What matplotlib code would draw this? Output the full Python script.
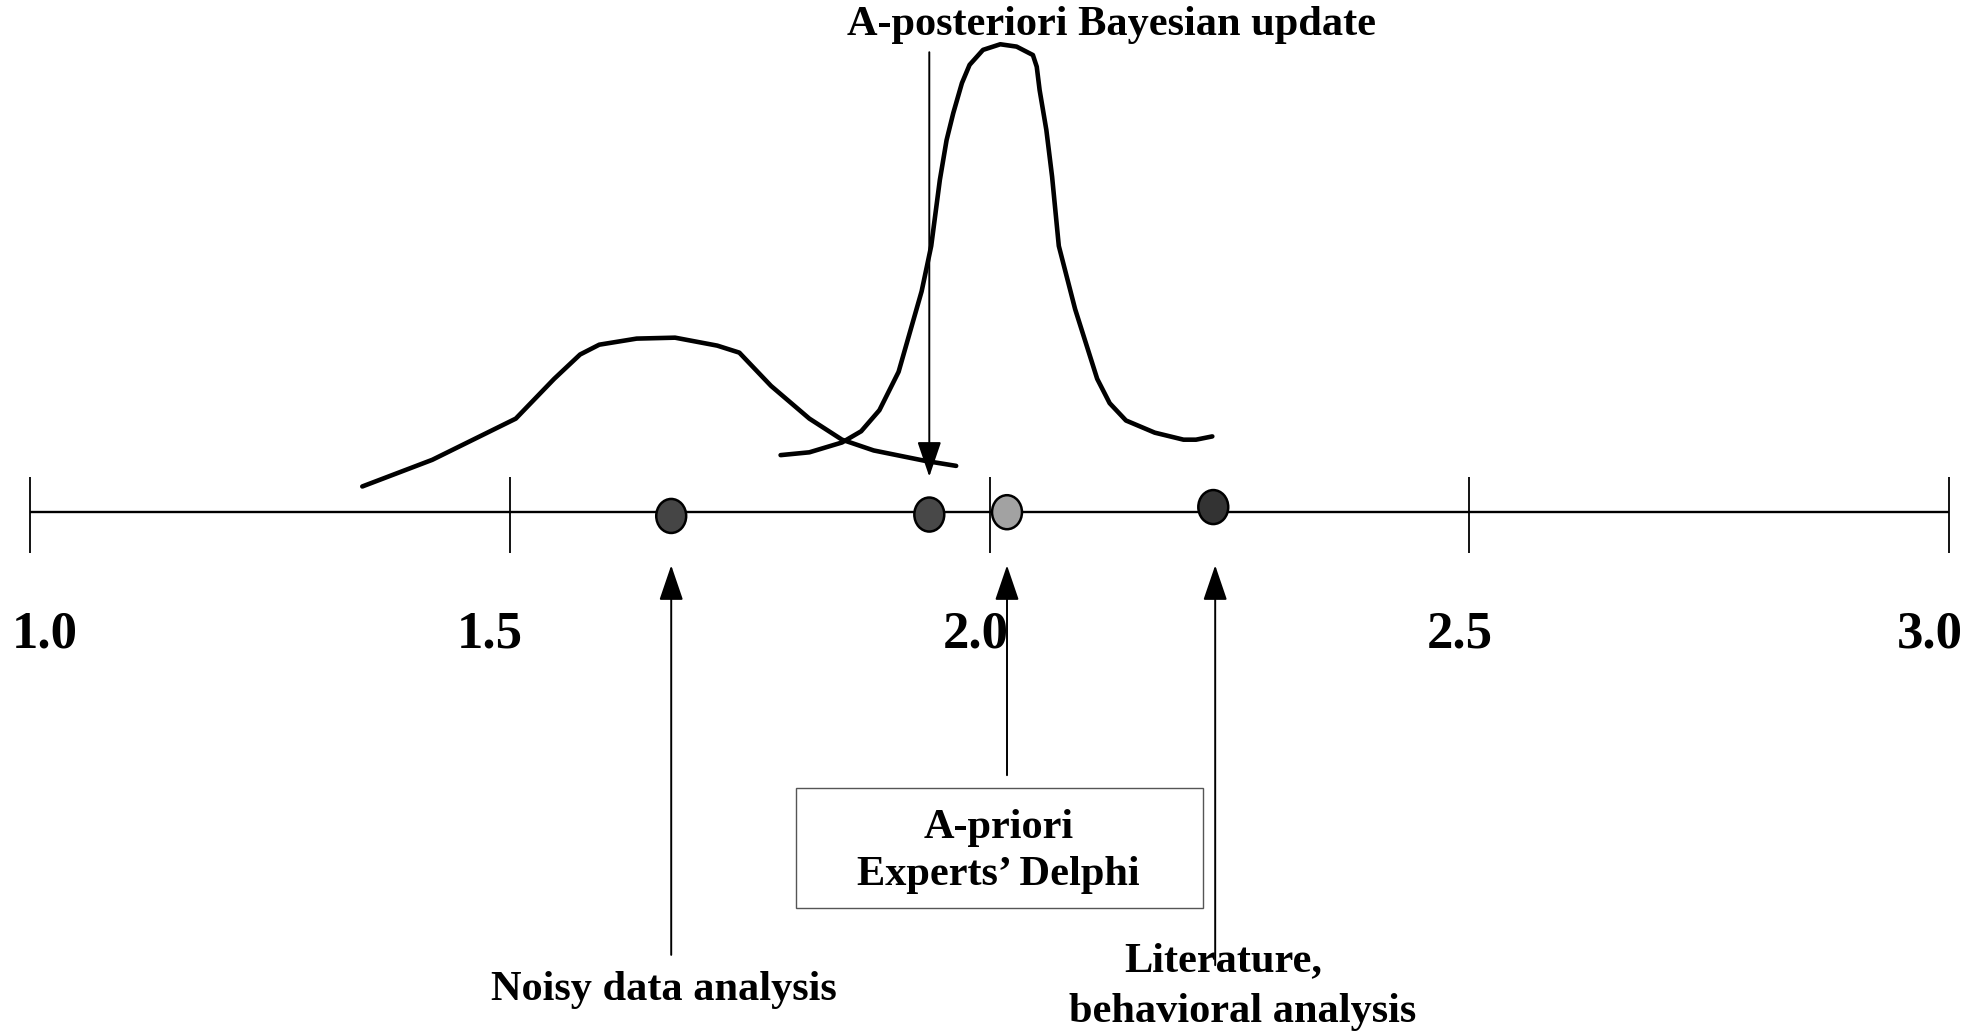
import matplotlib
matplotlib.use("Agg")
import matplotlib.pyplot as plt
from matplotlib.patches import Ellipse, FancyArrowPatch, Rectangle

# ---------------- data ----------------
tick_values = [1.0, 1.5, 2.0, 2.5, 3.0]
tick_labels = ["1.0", "1.5", "2.0", "2.5", "3.0"]

# wide distribution (noisy data)
wide_x = [1.346, 1.419, 1.506, 1.546, 1.573, 1.593, 1.632, 1.672, 1.716, 1.739,
          1.772, 1.812, 1.846, 1.879, 1.932, 1.965]
wide_y = [0.055, 0.112, 0.200, 0.285, 0.337, 0.358, 0.371, 0.373, 0.356, 0.341,
          0.270, 0.200, 0.155, 0.132, 0.110, 0.099]

# narrow distribution (a-posteriori)
narrow_x = [1.782, 1.812, 1.846, 1.866, 1.885, 1.905, 1.929, 1.939, 1.948, 1.955,
            1.962, 1.971, 1.979, 1.993, 2.011, 2.028, 2.045, 2.049, 2.052, 2.059,
            2.065, 2.072, 2.089, 2.112, 2.125, 2.142, 2.172, 2.202, 2.215, 2.232]
narrow_y = [0.122, 0.128, 0.149, 0.173, 0.218, 0.300, 0.472, 0.569, 0.710, 0.795,
            0.853, 0.917, 0.956, 0.988, 1.000, 0.995, 0.977, 0.952, 0.902, 0.817,
            0.717, 0.569, 0.434, 0.285, 0.233, 0.196, 0.170, 0.155, 0.155, 0.162]

# estimates
point_names = ["Noisy data analysis", "A-posteriori Bayesian update",
               "A-priori Experts' Delphi", "Literature, behavioral analysis"]
point_x = [1.668, 1.937, 2.018, 2.233]
point_y = [-0.008, -0.005, 0.0, 0.011]
point_colors = ["#454545", "#484848", "#a2a2a2", "#333333"]

# ---------------- figure ----------------
fig = plt.figure(figsize=(19.82, 10.32), dpi=100)
ax = fig.add_axes([0, 0, 1, 1])
ax.set_xlim(0.96838, 3.03426)
ax.set_ylim(-1.1108, 1.0946)
ax.axis("off")

FONT = "Liberation Serif"

# axis line and ticks
ax.plot([tick_values[0], tick_values[-1]], [0, 0], color="black", lw=1.7,
        solid_capstyle="butt")
ax.vlines(tick_values, -0.0865, 0.0757, color="black", lw=1.3)

label_offsets = [0.015, -0.021, -0.015, -0.010, -0.020]
for v, lab, off in zip(tick_values, tick_labels, label_offsets):
    ax.text(v + off, -0.262, lab, ha="center", va="center", fontsize=38,
            fontweight="bold", family=FONT)

# curves
ax.plot(wide_x, wide_y, color="black", lw=3.3, solid_capstyle="round",
        solid_joinstyle="round")
ax.plot(narrow_x, narrow_y, color="black", lw=3.3, solid_capstyle="round",
        solid_joinstyle="round")


def arrow(x, y0, y1):
    a = FancyArrowPatch((x, y0), (x, y1),
                        arrowstyle="-|>,head_length=22,head_width=7.5",
                        mutation_scale=1, shrinkA=0, shrinkB=0,
                        color="black", lw=1.4, zorder=4)
    ax.add_patch(a)


# upward arrows from labels
arrow(point_x[0], -0.946, -0.1135)
arrow(point_x[2], -0.562, -0.1135)
arrow(point_x[3] + 0.002, -0.968, -0.1135)
# downward arrow from posterior label
arrow(point_x[1], 0.983, 0.076)

# points
for x, y, c in zip(point_x, point_y, point_colors):
    ax.add_patch(Ellipse((x, y), 0.0312, 0.0727, facecolor=c,
                         edgecolor="black", lw=1.8, zorder=5))

# texts
ax.text(2.1265, 1.0405, "A-posteriori Bayesian update", ha="center", va="center",
        fontsize=30.5, fontweight="bold", family=FONT)

ax.add_patch(Rectangle((1.7984, -0.8459), 2.2227 - 1.7984, -0.5892 + 0.8459,
                       facecolor="white", edgecolor="#555555", lw=1.0, zorder=3))
ax.text(2.0092, -0.6757, "A-priori", ha="center", va="center", fontsize=30.5,
        fontweight="bold", family=FONT, zorder=6)
ax.text(2.0092, -0.7757, "Experts\u2019 Delphi", ha="center", va="center",
        fontsize=30.5, fontweight="bold", family=FONT, zorder=6)

ax.text(1.6601, -1.0216, "Noisy data analysis", ha="center", va="center",
        fontsize=30.5, fontweight="bold", family=FONT)
ax.text(2.2437, -0.9595, "Literature,", ha="center", va="center",
        fontsize=30.5, fontweight="bold", family=FONT)
ax.text(2.2635, -1.0676, "behavioral analysis", ha="center", va="center",
        fontsize=30.5, fontweight="bold", family=FONT)

fig.savefig("out.png", dpi=100, facecolor="white")
